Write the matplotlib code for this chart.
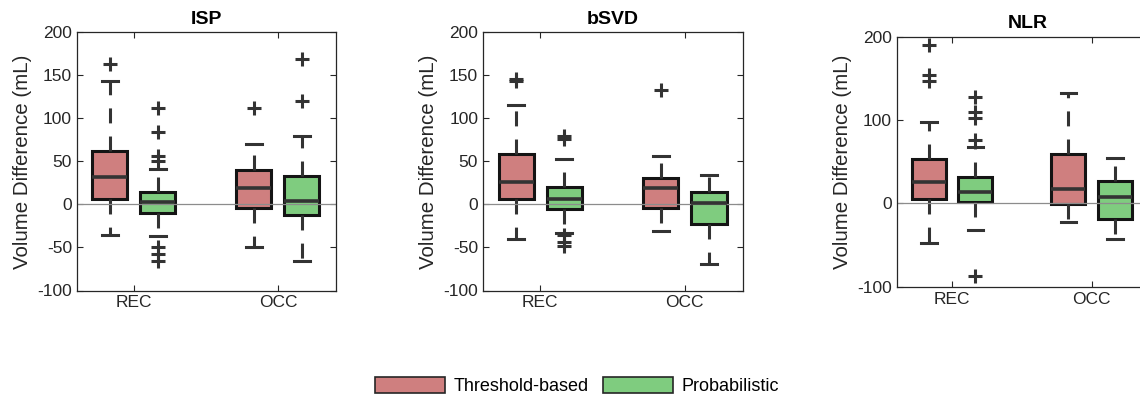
import matplotlib
matplotlib.use("Agg")
import matplotlib.pyplot as plt
from matplotlib.patches import Patch

plt.rcParams["font.family"] = ["Liberation Sans", "DejaVu Sans"]
plt.rcParams["axes.unicode_minus"] = False

titles = ["ISP", "bSVD", "NLR"]
groups = ["REC", "OCC"]
methods = ["Threshold-based", "Probabilistic"]
colors = ["#CF7F7F", "#7FCC7F"]

# box order in each panel: REC threshold, REC probabilistic, OCC threshold, OCC probabilistic
isp_med = [32, 3.3, 19.2, 4.5]
isp_q1 = [6.4, -10.3, -4.5, -12.6]
isp_q3 = [62.2, 14.9, 40.1, 33]
isp_lo = [-36, -37, -50, -66]
isp_hi = [143.6, 41, 70, 79]
isp_fliers = [[163.4], [112, 84, 56, 50, -50, -58, -66], [112.6], [120, 168.8]]

bsvd_med = [26.6, 6.4, 19.6, 1.7]
bsvd_q1 = [6, -5.6, -4.5, -22.7]
bsvd_q3 = [58.7, 20, 31.2, 14.1]
bsvd_lo = [-40, -33, -31, -69]
bsvd_hi = [115.7, 53, 56.4, 34]
bsvd_fliers = [[143, 146], [76, 79, -36, -44, -48], [132.4], []]

nlr_med = [25.1, 13.2, 17.6, 7.2]
nlr_q1 = [5.2, 2, -0.8, -18.7]
nlr_q3 = [52.7, 31.1, 59, 26.7]
nlr_lo = [-48, -32, -22, -43]
nlr_hi = [97.7, 67.7, 132.4, 54]
nlr_fliers = [[147, 154, 189.5], [76.5, 102, 110, 128, -87], [], []]

panels = [
    (isp_med, isp_q1, isp_q3, isp_lo, isp_hi, isp_fliers),
    (bsvd_med, bsvd_q1, bsvd_q3, bsvd_lo, bsvd_hi, bsvd_fliers),
    (nlr_med, nlr_q1, nlr_q3, nlr_lo, nlr_hi, nlr_fliers),
]

positions = [1, 2, 4, 5]
group_ticks = [1.5, 4.5]
# the last panel runs past the right edge of the picture, as in the original
axes_rects = [
    [0.0675, 0.27375, 0.2272, 0.6455],
    [0.4237, 0.27375, 0.2281, 0.6455],
    [0.7868, 0.28325, 0.2298, 0.625],
]
xlims = [(0.3125, 5.708), (0.3125, 5.708), (0.3125, 5.947)]
ytick_sets = [range(-100, 201, 50), range(-100, 201, 50), range(-100, 201, 100)]

dark = "#333333"
axcol = "#262626"

fig = plt.figure(figsize=(11.4, 4), dpi=100)

for i, (title, data) in enumerate(zip(titles, panels)):
    med, q1, q3, lo, hi, fliers = data
    ax = fig.add_axes(axes_rects[i])
    stats = [
        dict(med=med[k], q1=q1[k], q3=q3[k], whislo=lo[k], whishi=hi[k], fliers=fliers[k])
        for k in range(4)
    ]
    bp = ax.bxp(
        stats,
        positions=positions,
        widths=0.73,
        capwidths=0.33,
        patch_artist=True,
        manage_ticks=False,
        boxprops=dict(edgecolor="#141414", linewidth=2.2),
        whiskerprops=dict(color=dark, linewidth=2.2, linestyle=(0, (4.9, 4.3))),
        capprops=dict(color=dark, linewidth=2.2),
        medianprops=dict(color=dark, linewidth=2.6, zorder=3),
        flierprops=dict(marker="+", markersize=10, markeredgewidth=2.2,
                        markeredgecolor=dark, linestyle="none"),
    )
    for k, box in enumerate(bp["boxes"]):
        box.set_facecolor(colors[k % 2])
    ax.axhline(0, color="#8c8c8c", lw=0.9, zorder=2.5)

    ax.set_xlim(*xlims[i])
    ax.set_ylim(-100, 200)
    ax.set_xticks(group_ticks)
    ax.set_xticklabels(groups)
    ax.set_yticks(list(ytick_sets[i]))
    ax.tick_params(direction="in", top=True, right=True, length=4, width=0.8,
                   colors=axcol, labelsize=12.5, labelcolor=axcol)
    for s in ax.spines.values():
        s.set_color(axcol)
        s.set_linewidth(0.9)
    if i == 2:
        ax.spines["right"].set_visible(False)
        ax.tick_params(right=False)
    ax.set_title(title, fontsize=14, fontweight="bold", pad=6, color="black")
    ax.set_ylabel("Volume Difference (mL)", fontsize=14.8, color=axcol)

handles = [Patch(facecolor=c, edgecolor=axcol, linewidth=1.2, label=m)
           for c, m in zip(colors, methods)]
fig.legend(handles=handles, loc="center", bbox_to_anchor=(0.506, 0.035), ncol=2,
           frameon=False, fontsize=13, handlelength=3.9, handleheight=0.95,
           handletextpad=0.45, columnspacing=0.8)

fig.savefig("out.png", dpi=100)
